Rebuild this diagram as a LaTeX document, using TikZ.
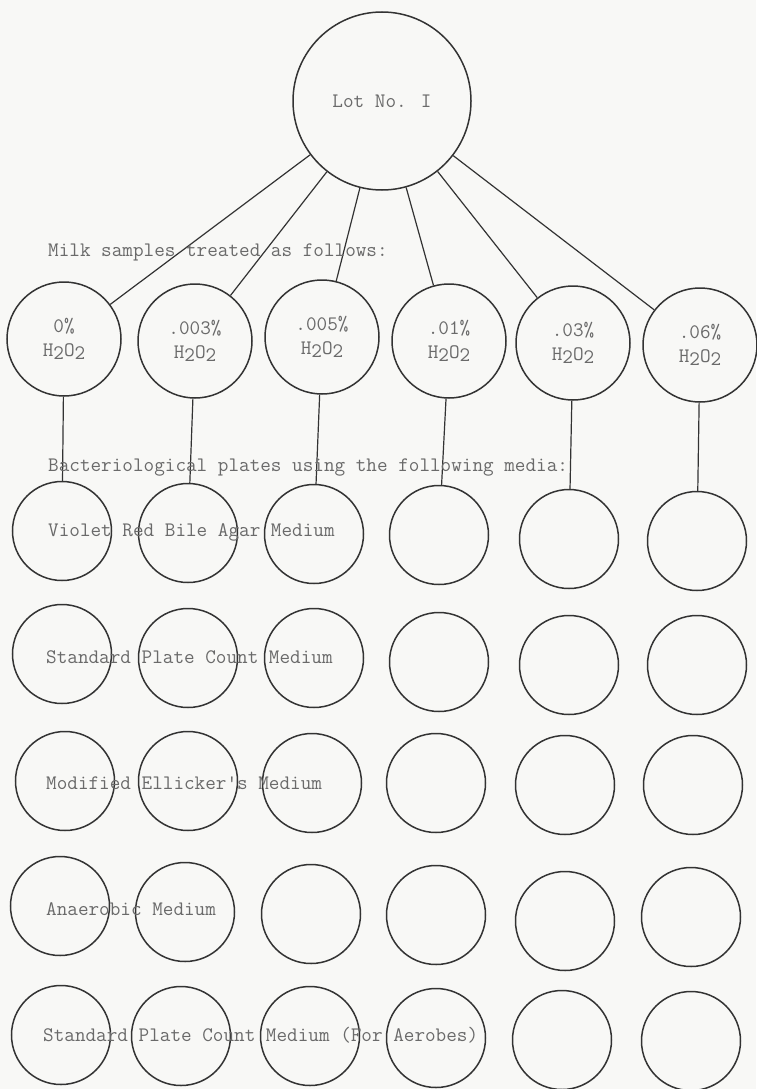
\documentclass[tikz,border=0pt]{standalone}
\definecolor{ink}{HTML}{333333}
\definecolor{type}{HTML}{6A6A6A}
\definecolor{paper}{HTML}{F8F8F6}
\begin{document}
\begin{tikzpicture}[x=1pt,y=-1pt,
  ring/.style={circle,draw=ink,line width=1.5pt,inner sep=0pt},
  big/.style={ring,minimum size=178pt},
  mid/.style={ring,minimum size=114pt},
  plate/.style={ring,minimum size=99pt},
  tw/.style={text=type,font=\fontsize{20.6}{24}\selectfont\ttfamily},
  lbl/.style={tw,inner sep=0pt,anchor=west},
  link/.style={draw=ink,line width=1.2pt}]
\fill[paper] (0,0) rectangle (756,1089);
\useasboundingbox (0,0) rectangle (756,1089);
\newcommand{\hto}{H\raisebox{-0.35ex}{2}O\raisebox{-0.35ex}{2}}
% top circle
\node[big,tw] (lot) at (382,101) {Lot No. I};
% treatment circles
\node[mid,tw,align=center] (t1) at (64,339) {0\%\\\hto};
\node[mid,tw,align=center] (t2) at (195,341) {.003\%\\\hto};
\node[mid,tw,align=center] (t3) at (322,337) {.005\%\\\hto};
\node[mid,tw,align=center] (t4) at (449,341) {.01\%\\\hto};
\node[mid,tw,align=center] (t5) at (573,343) {.03\%\\\hto};
\node[mid,tw,align=center] (t6) at (700,345) {.06\%\\\hto};
% plates
\foreach \x/\y [count=\c] in {62/531,188/533,314/534,439/535,569/539,697/541}
  \node[plate] (p1\c) at (\x,\y) {};
\foreach \x/\y [count=\c] in {62/654,188/658,314/658,439/662,569/665,697/665}
  \node[plate] (p2\c) at (\x,\y) {};
\foreach \x/\y [count=\c] in {65/781,188/781,312/783,436/783,565/785,693/785}
  \node[plate] (p3\c) at (\x,\y) {};
\foreach \x/\y [count=\c] in {60/906,185/912,311/914,436/915,565/921,691/917}
  \node[plate] (p4\c) at (\x,\y) {};
\foreach \x/\y [count=\c] in {61/1035,181/1036,310/1036,436/1038,562/1040,691/1041}
  \node[plate] (p5\c) at (\x,\y) {};
% connectors
\foreach \c in {1,...,6} {
  \draw[link] (lot) -- (t\c);
  \draw[link] (t\c) -- (p1\c);
}
% labels
\node[lbl] (milk) at (48,252) {Milk samples treated as follows:};
\node[lbl] (bact) at (48,467) {Bacteriological plates using the following media:};
\node[lbl] (m1) at (48,532) {Violet Red Bile Agar Medium};
\node[lbl] (m2) at (46,657) {Standard Plate Count Medium};
\node[lbl] (m3) at (46,783) {Modified Ellicker's Medium};
\node[lbl] (m4) at (46,909) {Anaerobic Medium};
\node[lbl] (m5) at (43,1035) {Standard Plate Count Medium (For Aerobes)};
\end{tikzpicture}
\end{document}
